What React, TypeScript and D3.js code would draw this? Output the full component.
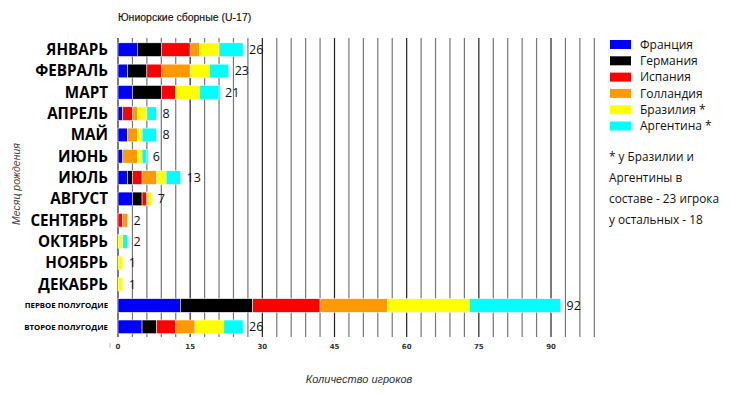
import React, { useEffect, useRef } from "react";
import * as d3 from "d3";

// месяцы рождения + итоги по полугодиям
const months = [
  "ЯНВАРЬ", "ФЕВРАЛЬ", "МАРТ", "АПРЕЛЬ", "МАЙ", "ИЮНЬ",
  "ИЮЛЬ", "АВГУСТ", "СЕНТЯБРЬ", "ОКТЯБРЬ", "НОЯБРЬ", "ДЕКАБРЬ",
  "ПЕРВОЕ ПОЛУГОДИЕ", "ВТОРОЕ ПОЛУГОДИЕ"
];
const halfYears = ["ПЕРВОЕ ПОЛУГОДИЕ", "ВТОРОЕ ПОЛУГОДИЕ"];

const countries = ["Франция", "Германия", "Испания", "Голландия", "Бразилия *", "Аргентина *"];
const countryColors = ["#0000ff", "#000000", "#ff0000", "#ff9900", "#ffff00", "#00ffff"];

const france = [4, 2, 3, 1, 2, 1, 2, 3, 0, 0, 0, 0, 13, 5];
const germany = [5, 4, 6, 0, 0, 0, 1, 2, 0, 0, 0, 0, 15, 3];
const spain = [6, 3, 3, 2, 0, 0, 2, 1, 1, 0, 0, 0, 14, 4];
const holland = [2, 6, 0, 1, 2, 3, 3, 0, 1, 0, 0, 0, 14, 4];
const brazil = [4, 4, 5, 2, 1, 1, 2, 1, 0, 1, 1, 1, 17, 6];
const argentina = [5, 4, 4, 2, 3, 1, 3, 0, 0, 1, 0, 0, 19, 4];

const xTicks = [0, 15, 30, 45, 60, 75, 90];
const noteLines = ["* у Бразилии и", "Аргентины в", "составе - 23 игрока", "у остальных - 18"];

const W = 730, H = 396;

export default function App() {
  const ref = useRef<SVGSVGElement>(null);

  useEffect(() => {
    const svg = d3.select(ref.current);
    svg.selectAll("*").remove();

    const series = [france, germany, spain, holland, brazil, argentina];
    const rows = months.map((m, i) => {
      const r: any = { month: m };
      countries.forEach((c, j) => { r[c] = series[j][i]; });
      return r;
    });
    const stacked = d3.stack().keys(countries)(rows);

    const x = d3.scaleLinear().domain([0, 99]).range([118, 594.3]);
    const y = d3.scaleBand().domain(months).range([39, 337.5]).paddingInner(0.36).paddingOuter(0.18);

    // title
    svg.append("text")
      .attr("x", 118).attr("y", 21)
      .attr("font-family", "Liberation Sans, Arial, sans-serif")
      .attr("font-size", 10.5)
      .attr("fill", "#111")
      .attr("stroke", "#111").attr("stroke-width", 0.15)
      .text("Юниорские сборные (U-17)");

    // grid
    svg.append("g").selectAll("line")
      .data(d3.range(0, 100, 3))
      .enter().append("line")
      .attr("x1", d => x(d)).attr("x2", d => x(d))
      .attr("y1", 38).attr("y2", 337)
      .attr("stroke", d => (d % 15 === 0 ? "#222" : "#777"))
      .attr("stroke-width", 1.2);

    // bars
    svg.append("g").selectAll("g")
      .data(stacked)
      .enter().append("g")
      .attr("fill", (d, i) => countryColors[i])
      .selectAll("rect")
      .data(d => d)
      .enter().append("rect")
      .attr("x", d => x(d[0]))
      .attr("width", d => x(d[1]) - x(d[0]))
      .attr("y", d => y(d.data.month as string)!)
      .attr("height", y.bandwidth())
      .attr("stroke", d => (d[1] > d[0] ? "#fff" : "none"))
      .attr("stroke-width", 0.5);

    // totals
    svg.append("g").selectAll("text")
      .data(rows)
      .enter().append("text")
      .attr("x", d => x(d3.sum(countries, c => d[c])) + 6)
      .attr("y", d => y(d.month)! + y.bandwidth() / 2)
      .attr("dy", "0.36em")
      .attr("font-family", "Open Sans, sans-serif")
      .attr("font-size", 12.5)
      .attr("fill", "#111")
      .text(d => d3.sum(countries, c => d[c]));

    // month labels
    svg.append("g").selectAll("text")
      .data(months)
      .enter().append("text")
      .attr("x", 108)
      .attr("y", d => y(d)! + y.bandwidth() / 2)
      .attr("dy", "0.36em")
      .attr("text-anchor", "end")
      .attr("font-family", "Open Sans, sans-serif")
      .attr("font-weight", 700)
      .attr("font-size", d => (halfYears.includes(d) ? 7.8 : 15.2))
      .attr("fill", "#000")
      .text(d => d);

    // x tick labels
    svg.append("g").selectAll("text")
      .data(xTicks)
      .enter().append("text")
      .attr("x", d => x(d))
      .attr("y", 348.5)
      .attr("text-anchor", "middle")
      .attr("font-family", "DejaVu Sans, sans-serif")
      .attr("font-weight", 700)
      .attr("font-size", 7)
      .attr("fill", "#333")
      .text(d => d);
    svg.append("line")
      .attr("x1", 110).attr("x2", 110).attr("y1", 343).attr("y2", 348)
      .attr("stroke", "#bbb");

    // axis titles
    svg.append("text")
      .attr("x", 359).attr("y", 383)
      .attr("text-anchor", "middle")
      .attr("font-family", "Liberation Sans, Arial, sans-serif")
      .attr("font-style", "italic")
      .attr("font-size", 11)
      .attr("fill", "#333")
      .text("Количество игроков");
    svg.append("text")
      .attr("transform", "translate(20,184) rotate(-90)")
      .attr("text-anchor", "middle")
      .attr("font-family", "Liberation Sans, Arial, sans-serif")
      .attr("font-style", "italic")
      .attr("font-size", 10.5)
      .attr("fill", "#444")
      .text("Месяц рождения");

    // legend
    const legend = svg.append("g").selectAll("g")
      .data(countries)
      .enter().append("g")
      .attr("transform", (d, i) => "translate(610," + (40 + i * 16.3) + ")");
    legend.append("rect")
      .attr("width", 21).attr("height", 9)
      .attr("fill", (d, i) => countryColors[i]);
    legend.append("text")
      .attr("x", 30).attr("y", 4.5)
      .attr("dy", "0.36em")
      .attr("font-family", "Open Sans, sans-serif")
      .attr("font-size", 12)
      .attr("fill", "#111")
      .text(d => d);

    svg.append("g").selectAll("text")
      .data(noteLines)
      .enter().append("text")
      .attr("x", 609)
      .attr("y", (d, i) => 157 + i * 21)
      .attr("dy", "0.36em")
      .attr("font-family", "Open Sans, sans-serif")
      .attr("font-size", 11.8)
      .attr("fill", "#111")
      .text(d => d);
  }, []);

  return (
    <svg ref={ref} width={W} height={H}
      style={{ position: "absolute", left: 0, top: 0, background: "#fff" }} />
  );
}
